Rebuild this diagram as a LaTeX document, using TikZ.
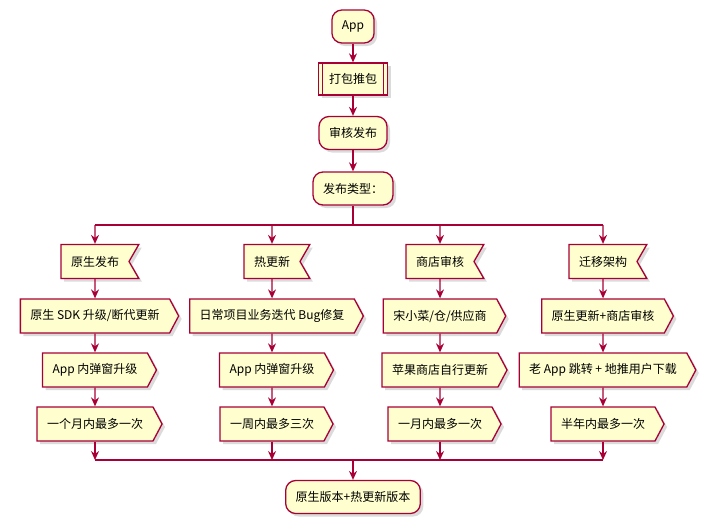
\documentclass[tikz,border=0pt]{standalone}
\usepackage{fontspec}
\setmainfont{Noto Sans CJK SC}
\usetikzlibrary{arrows.meta,shapes.symbols,shadows,positioning}
\usepackage{xcolor}
\definecolor{umlred}{RGB}{168,0,54}
\definecolor{umlfill}{RGB}{254,254,206}
\tikzset{
  % soft grey shadow under every box
  umlshadow/.style={drop shadow={shadow xshift=3pt, shadow yshift=-3pt, fill=black!35, opacity=0.4}},
  % common box look
  umlbox/.style={draw=umlred, line width=1.3pt, fill=umlfill, minimum height=33pt,
                 inner xsep=10pt, inner ysep=2pt, font=\fontsize{12}{14}\selectfont, umlshadow},
  % rounded activity
  actbox/.style={umlbox, rectangle, rounded corners=10pt},
  % sub-process box
  subbox/.style={umlbox, rectangle, minimum height=32pt, inner xsep=10.5pt},
  % receive box (notch on the right)
  recvbox/.style={umlbox, signal, signal to=nowhere, signal from=east, signal pointer angle=120, minimum height=34pt},
  % send box (point on the right)
  sendbox/.style={umlbox, signal, signal to=east, signal pointer angle=124, minimum height=34pt},
  % connectors
  flow/.style={draw=umlred, line width=1.2pt},
  flowarrow/.style={flow, -{Stealth[length=9pt,width=8pt,inset=3pt]}},
}

\begin{document}
\begin{tikzpicture}[x=1pt, y=-1pt]
  \useasboundingbox (0,0) rectangle (719,525);

  % ── start ──
  \node[actbox] (app) at (353,26.5) {App};
  \node[subbox] (pkg) at (353,79) {打包推包};
  \draw[umlred, line width=1.2pt] ([xshift=5pt]pkg.north west) -- ([xshift=5pt]pkg.south west);
  \draw[umlred, line width=1.2pt] ([xshift=-5pt]pkg.north east) -- ([xshift=-5pt]pkg.south east);
  \node[actbox] (review) at (353,133) {审核发布};
  \node[actbox] (kind) at (353,188.5) {发布类型：};

  \draw[flowarrow] (app) -- (pkg);
  \draw[flowarrow] (pkg) -- (review);
  \draw[flowarrow] (review) -- (kind);

  % ── split ──
  \coordinate (split) at (353,225);
  \coordinate (s1) at (95,225);
  \coordinate (s2) at (272,225);
  \coordinate (s3) at (440,225);
  \coordinate (s4) at (603,225);
  \draw[flow] (kind) -- (split);
  \draw[flow] (s1) -- (s4);

  % ── column 1: native ──
  \node[recvbox] (r1) at (95,261.5) {原生发布};
  \node[sendbox] (a1) at (95,316) {原生 SDK 升级/断代更新};
  \node[sendbox] (b1) at (95,370) {App 内弹窗升级};
  \node[sendbox] (c1) at (95,424) {一个月内最多一次};

  % ── column 2: hot update ──
  \node[recvbox] (r2) at (272,261.5) {热更新};
  \node[sendbox] (a2) at (272,316) {日常项目业务迭代 Bug修复};
  \node[sendbox] (b2) at (272,370) {App 内弹窗升级};
  \node[sendbox] (c2) at (272,424) {一周内最多三次};

  % ── column 3: store review ──
  \node[recvbox] (r3) at (440,261.5) {商店审核};
  \node[sendbox] (a3) at (440,316) {宋小菜/仓/供应商};
  \node[sendbox] (b3) at (440,370) {苹果商店自行更新};
  \node[sendbox] (c3) at (440,424) {一月内最多一次};

  % ── column 4: migration ──
  \node[recvbox] (r4) at (603,261.5) {迁移架构};
  \node[sendbox] (a4) at (603,316) {原生更新+商店审核};
  \node[sendbox] (b4) at (603,370) {老 App 跳转 + 地推用户下载};
  \node[sendbox] (c4) at (603,424) {半年内最多一次};

  % ── merge ──
  \coordinate (m1) at (95,460);
  \coordinate (m2) at (272,460);
  \coordinate (m3) at (440,460);
  \coordinate (m4) at (603,460);
  \coordinate (merge) at (353,460);

  \foreach \i in {1,2,3,4} {
    \draw[flowarrow] (s\i) -- (r\i);
    \draw[flowarrow] (r\i) -- (a\i);
    \draw[flowarrow] (a\i) -- (b\i);
    \draw[flowarrow] (b\i) -- (c\i);
    \draw[flowarrow] (c\i) -- (m\i);
  }
  \draw[flow] (m1) -- (m4);

  % ── end ──
  \node[actbox] (final) at (353,497) {原生版本+热更新版本};
  \draw[flowarrow] (merge) -- (final);

\end{tikzpicture}
\end{document}
